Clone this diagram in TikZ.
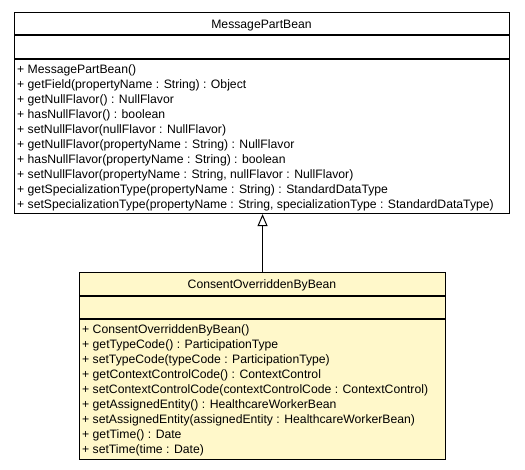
\documentclass[tikz,border=0pt]{standalone}
\usepackage{fontspec}
\setmainfont{Liberation Sans}
\usetikzlibrary{arrows.meta}
\definecolor{classfill}{HTML}{FFF8CA}
\tikzset{
  classbox/.style={draw=black, line width=1.1pt, inner sep=0pt, anchor=north west},
  member/.style={anchor=base west, inner sep=0pt, font=\fontsize{12.2}{14}\selectfont},
  ctitle/.style={anchor=base, inner sep=0pt, font=\fontsize{12.2}{14}\selectfont},
  sep/.style={line width=1.1pt},
  inherit/.style={line width=1pt, -{Triangle[open, length=12pt, width=10pt, line width=1pt]}}
}
\begin{document}
\begin{tikzpicture}[x=1pt,y=-1pt]
\useasboundingbox (0,0) rectangle (525,469);
% superclass
\node[classbox, minimum width=495pt, minimum height=201pt] (super) at (14,12) {};
\draw[sep] (14,35) -- (509,35);
\draw[sep] (14,59) -- (509,59);
\node[ctitle] (supt) at (261.5,28) {MessagePartBean};
\node[member] (m1) at (17,73.6) {+ MessagePartBean()};
\node[member] (m2) at (17,88.6) {+ getField(propertyName : String) : Object};
\node[member] (m3) at (17,103.6) {+ getNullFlavor() : NullFlavor};
\node[member] (m4) at (17,118.6) {+ hasNullFlavor() : boolean};
\node[member] (m5) at (17,133.6) {+ setNullFlavor(nullFlavor : NullFlavor)};
\node[member] (m6) at (17,148.6) {+ getNullFlavor(propertyName : String) : NullFlavor};
\node[member] (m7) at (17,163.6) {+ hasNullFlavor(propertyName : String) : boolean};
\node[member] (m8) at (17,178.6) {+ setNullFlavor(propertyName : String, nullFlavor : NullFlavor)};
\node[member] (m9) at (17,193.6) {+ getSpecializationType(propertyName : String) : StandardDataType};
\node[member] (m10) at (17,208.6) {+ setSpecializationType(propertyName : String, specializationType : StandardDataType)};
% subclass
\node[classbox, fill=classfill, minimum width=366pt, minimum height=187pt] (sub) at (79,272) {};
\draw[sep] (79,296) -- (445,296);
\draw[sep] (79,319) -- (445,319);
\node[ctitle] (subt) at (262,288.5) {ConsentOverriddenByBean};
\node[member] (c1) at (82,333.6) {+ ConsentOverriddenByBean()};
\node[member] (c2) at (82,348.6) {+ getTypeCode() : ParticipationType};
\node[member] (c3) at (82,363.6) {+ setTypeCode(typeCode : ParticipationType)};
\node[member] (c4) at (82,378.6) {+ getContextControlCode() : ContextControl};
\node[member] (c5) at (82,393.6) {+ setContextControlCode(contextControlCode : ContextControl)};
\node[member] (c6) at (82,408.6) {+ getAssignedEntity() : HealthcareWorkerBean};
\node[member] (c7) at (82,423.6) {+ setAssignedEntity(assignedEntity : HealthcareWorkerBean)};
\node[member] (c8) at (82,438.6) {+ getTime() : Date};
\node[member] (c9) at (82,453.6) {+ setTime(time : Date)};
% generalization
\draw[inherit] (sub.north) -- (sub.north |- super.south);
\end{tikzpicture}
\end{document}
